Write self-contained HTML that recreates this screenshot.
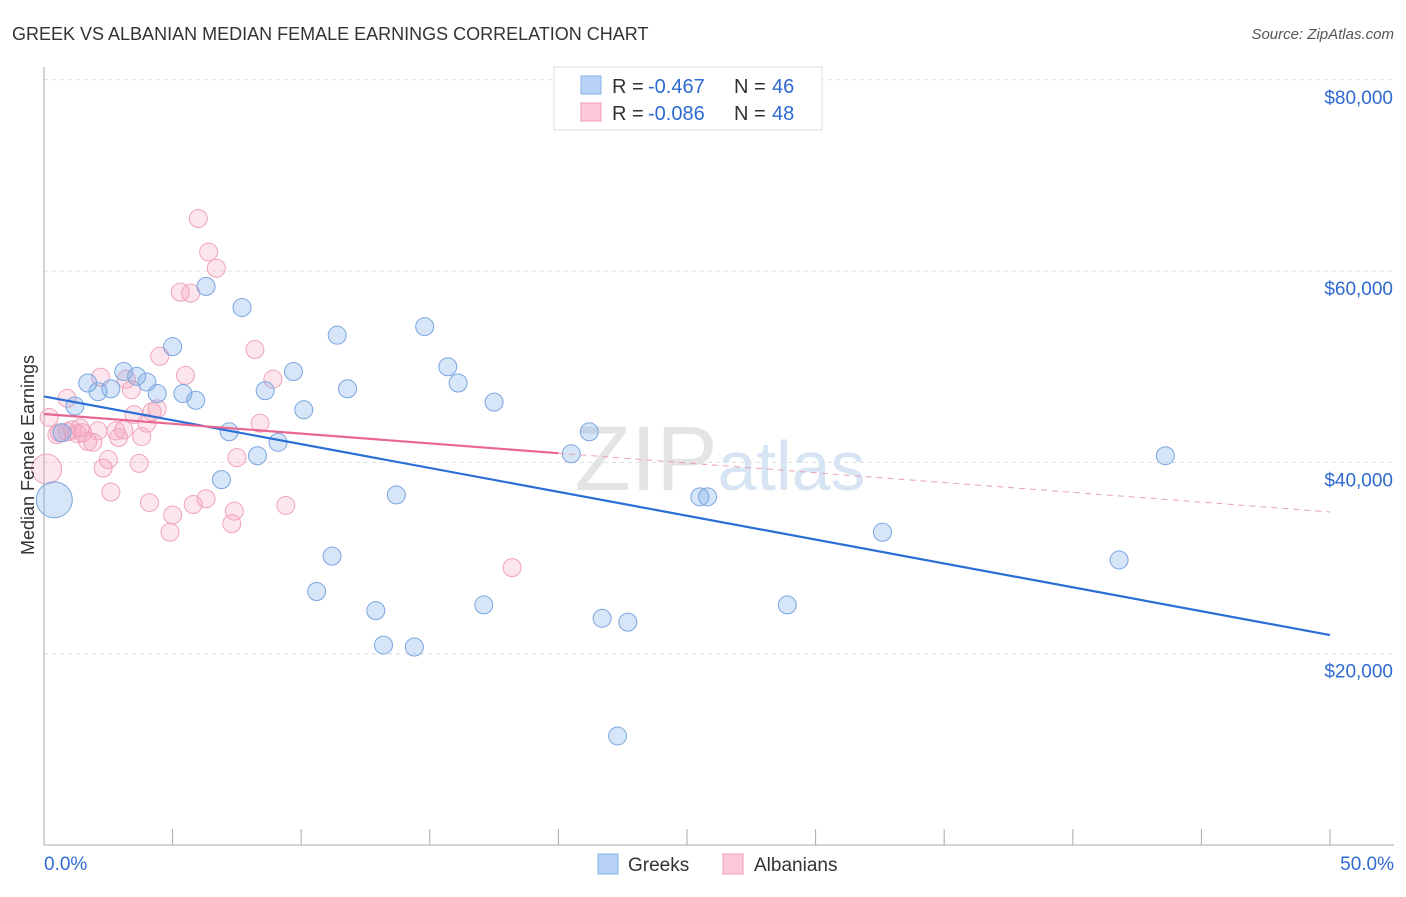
<!DOCTYPE html>
<html><head><meta charset="utf-8"><style>
body{margin:0;background:#fff;font-family:"Liberation Sans",sans-serif}
svg text{font-family:"Liberation Sans",sans-serif}
</style></head><body>
<svg id="c" width="1406" height="892">
<text x="12" y="40" font-size="18" fill="#333">GREEK VS ALBANIAN MEDIAN FEMALE EARNINGS CORRELATION CHART</text>
<text x="1394" y="39" font-size="15" fill="#555" text-anchor="end" font-style="italic">Source: ZipAtlas.com</text>
<g id="grid"></g>
<text x="720" y="490" font-size="92" fill="#e4e4e4" text-anchor="middle" font-family="Liberation Serif">ZIP<tspan fill="#d6e4f4" font-family="Liberation Sans" font-size="70">atlas</tspan></text>
<g id="marks"></g>
<text transform="translate(34,455) rotate(-90)" font-size="18" fill="#333" text-anchor="middle">Median Female Earnings</text>
<g>
<rect x="554" y="67" width="268" height="63" fill="#fff" stroke="#ddd"/>
<rect x="581" y="76" width="20" height="18" fill="#b8d3f5" stroke="#86b0e6"/>
<rect x="581" y="103" width="20" height="18" fill="#fbc9d7" stroke="#ef9fb8"/>
<text x="612" y="93" font-size="20" fill="#333">R =</text>
<text x="648" y="93" font-size="20" fill="#2e6bd1">-0.467</text>
<text x="734" y="93" font-size="20" fill="#333">N =</text>
<text x="772" y="93" font-size="20" fill="#2e6bd1">46</text>
<text x="612" y="120" font-size="20" fill="#333">R =</text>
<text x="648" y="120" font-size="20" fill="#2e6bd1">-0.086</text>
<text x="734" y="120" font-size="20" fill="#333">N =</text>
<text x="772" y="120" font-size="20" fill="#2e6bd1">48</text>
</g>
<g>
<rect x="598" y="854" width="20" height="20" fill="#b8d3f5" stroke="#86b0e6"/>
<text x="628" y="871" font-size="19" fill="#333">Greeks</text>
<rect x="723" y="854" width="20" height="20" fill="#fbc9d7" stroke="#ef9fb8"/>
<text x="754" y="871" font-size="19" fill="#333">Albanians</text>
</g>
</svg>
<script>
const greekX=[0.4,0.7,1.2,1.7,2.1,2.6,3.1,3.6,4.0,4.4,5.0,5.4,5.9,6.3,6.9,7.2,7.7,8.3,8.6,9.1,9.7,10.1,10.6,11.2,11.4,11.8,12.9,13.2,13.7,14.4,14.8,15.7,16.1,17.1,17.5,20.5,21.2,21.7,22.3,22.7,25.5,25.8,28.9,32.6,41.8,43.6];
const greekY=[36100,43100,45900,48300,47400,47700,49500,49000,48400,47200,52100,47200,46500,58400,38200,43200,56200,40700,47500,42100,49500,45500,26500,30200,53300,47700,24500,20900,36600,20700,54200,50000,48300,25100,46300,40900,43200,23700,11400,23300,36400,36400,25100,32700,29800,40700];
const albX=[6.0,6.4,6.7,5.3,5.7,4.5,2.2,0.9,3.2,3.4,5.5,8.2,8.9,4.4,4.2,3.5,4.0,8.4,0.2,0.6,1.1,1.5,2.1,2.8,3.1,2.9,3.8,1.9,2.5,2.3,3.7,7.5,0.1,2.6,4.1,5.8,6.3,5.0,4.9,7.4,7.3,9.4,18.2,1.4,0.5,1.7,0.9,1.3];
const albY=[65500,62000,60300,57800,57700,51100,48900,46700,48700,47600,49100,51800,48700,45600,45300,45000,44100,44100,44700,43100,43400,43100,43300,43300,43400,42600,42700,42100,40300,39400,39900,40500,39300,36900,35800,35600,36200,34500,32700,34900,33600,35500,29000,43600,42900,42200,43200,43000];
const trendGreek=[46900,21950];
const trendAlb=[45060,34820];
const albSolidEnd=20;
const yTicks=[20000,40000,60000,80000];
const yTickLabels=["$20,000","$40,000","$60,000","$80,000"];
const xTicks=[0,5,10,15,20,25,30,35,40,45,50];
const NS="http://www.w3.org/2000/svg";
const sx=v=>44+v/50*1286, sy=v=>845-v/20000*191.3;
function mk(p,t,a){const e=document.createElementNS(NS,t);for(const k in a)e.setAttribute(k,a[k]);p.appendChild(e);return e;}
const grid=document.getElementById('grid'),marks=document.getElementById('marks'),svg=document.getElementById('c');
yTicks.forEach((v,i)=>{
 const l=mk(grid,'line',{x1:44,x2:1394,y1:sy(v),y2:sy(v),stroke:'#ddd','stroke-dasharray':'4 4'});
 
 
 const t=mk(svg,'text',{x:1393,y:sy(v)+24,'font-size':19,fill:'#2e6bd1','text-anchor':'end'});t.textContent=yTickLabels[i];
 
 
});
mk(grid,'line',{x1:44,x2:44,y1:67,y2:845,stroke:'#aaa'});
mk(grid,'line',{x1:44,x2:1394,y1:845,y2:845,stroke:'#aaa'});
xTicks.forEach(v=>{const l=mk(grid,'line',{x1:sx(v),x2:sx(v),y1:829,y2:845,stroke:'#aaa'});
 
 });
[[0,"0.0%",'start',44],[50,"50.0%",'end',1394]].forEach(d=>{const t=mk(svg,'text',{x:d[3],y:870,'font-size':19,fill:'#2e6bd1','text-anchor':d[2]});t.textContent=d[1];
 
 });
function dots(X,Y,fill,stroke,name){X.forEach((x,i)=>{
 const big=(i==0&&name=='greek-point')||(i==32&&name=='albanian-point');
 const c=mk(marks,'circle',{cx:sx(x),cy:sy(Y[i]),r:big?(name=='greek-point'?18:15):9,fill:fill,stroke:stroke,'stroke-width':1});
 
 });}
dots(albX,albY,'rgba(244,160,188,0.28)','#f0a3bb','albanian-point');
dots(greekX,greekY,'rgba(120,168,232,0.3)','#7aa6e0','greek-point');
const ga=mk(marks,'line',{x1:sx(0),y1:sy(trendGreek[0]),x2:sx(50),y2:sy(trendGreek[1]),stroke:'#2b6fd6','stroke-width':2.2});


const ay=x=>trendAlb[0]+(trendAlb[1]-trendAlb[0])*x/50;
const a1=mk(marks,'line',{x1:sx(0),y1:sy(ay(0)),x2:sx(albSolidEnd),y2:sy(ay(albSolidEnd)),stroke:'#e8668f','stroke-width':2.2});


const a2=mk(marks,'line',{x1:sx(albSolidEnd),y1:sy(ay(albSolidEnd)),x2:sx(50),y2:sy(ay(50)),stroke:'#e8a0b6','stroke-width':1,'stroke-dasharray':'6 5'});


</script>
</body></html>
